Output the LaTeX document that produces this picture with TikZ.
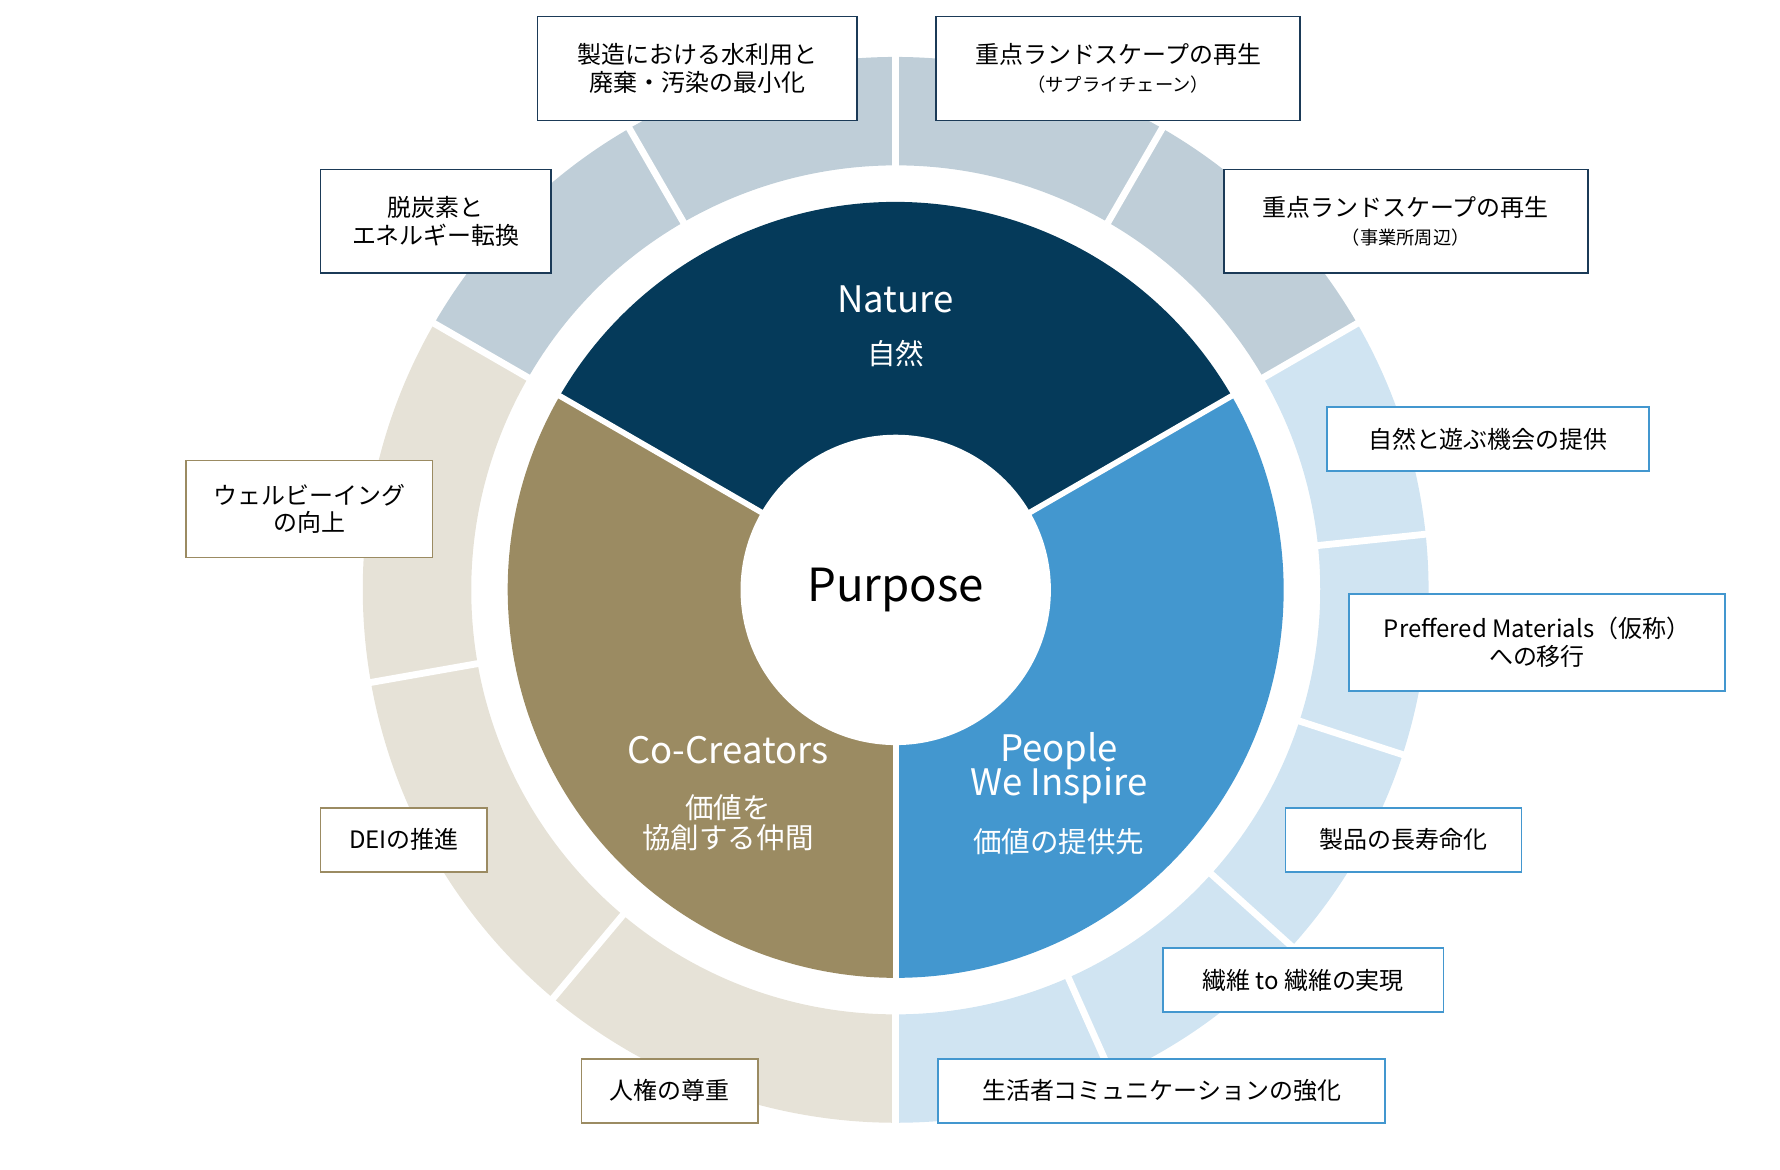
\documentclass[tikz,border=0pt]{standalone}
\usetikzlibrary{calc}
\usepackage{fontspec}
\setmainfont{Noto Sans CJK JP}
\begin{document}
\begin{tikzpicture}[x=1pt,y=1pt,
  lab/.style={draw=#1,line width=1.5pt,fill=white,align=center,inner sep=4pt,font=\fontsize{21}{28}\selectfont},
  inn/.style={text=white,font=\fontsize{32}{36}\selectfont},
  innj/.style={text=white,font=\fontsize{25}{30}\selectfont}]
\useasboundingbox (0,0) rectangle (1560,1025);
\coordinate (C) at (785,508);
\definecolor{nat}{HTML}{053A5A}\definecolor{peo}{HTML}{4397CF}\definecolor{coc}{HTML}{9B8B62}
\definecolor{rnat}{HTML}{BFCED8}\definecolor{rpeo}{HTML}{D0E4F2}\definecolor{rcoc}{HTML}{E6E2D7}
\definecolor{navy}{HTML}{1B3A57}
% ring
\fill[rnat] ($(C)+(30:467)$) arc(30:150:467) -- ($(C)+(150:372)$) arc(150:30:372) -- cycle;
\fill[rpeo] ($(C)+(-90:467)$) arc(-90:30:467) -- ($(C)+(30:372)$) arc(30:-90:372) -- cycle;
\fill[rcoc] ($(C)+(150:467)$) arc(150:270:467) -- ($(C)+(270:372)$) arc(270:150:372) -- cycle;
\foreach \a in {30,60,90,120,150,6,-18,-42,-66,-90,190,230}
  \draw[white,line width=6pt] ($(C)+(\a:360)$) -- ($(C)+(\a:480)$);
% inner
\fill[nat] (C) -- ($(C)+(30:340)$) arc(30:150:340) -- cycle;
\fill[peo] (C) -- ($(C)+(-90:340)$) arc(-90:30:340) -- cycle;
\fill[coc] (C) -- ($(C)+(150:340)$) arc(150:270:340) -- cycle;
\foreach \a in {30,150,270}
  \draw[white,line width=5pt] (C) -- ($(C)+(\a:345)$);
\fill[white] (C) circle (136);
\node[font=\fontsize{40}{44}\selectfont] (pur) at (C) {Purpose};
\node[inn] (n1) at (785,763) {Nature};
\node[innj] (n2) at (785,715) {自然};
\node[inn] (c1) at (638,368) {Co-Creators};
\node[innj,align=center] (c2) at (638,304) {価値を\\[-4pt]協創する仲間};
\node[inn,align=center] (p1) at (928,352) {People\\[-6pt]We Inspire};
\node[innj] (p2) at (928,287) {価値の提供先};
% labels
\node[lab=navy,minimum width=280pt,minimum height=91pt] (l1) at (611,965) {製造における水利用と\\[-4pt]廃棄・汚染の最小化};
\node[lab=navy,minimum width=319pt,minimum height=91pt] (l2) at (980,965) {重点ランドスケープの再生\\[-4pt]{\fontsize{16}{20}\selectfont（サプライチェーン）}};
\node[lab=navy,minimum width=202pt,minimum height=91pt] (l3) at (382,831) {脱炭素と\\[-4pt]エネルギー転換};
\node[lab=navy,minimum width=319pt,minimum height=91pt] (l4) at (1232,831) {重点ランドスケープの再生\\[-4pt]{\fontsize{16}{20}\selectfont（事業所周辺）}};
\node[lab=peo,minimum width=282pt,minimum height=56pt] (l5) at (1304,640) {自然と遊ぶ機会の提供};
\node[lab=peo,minimum width=329pt,minimum height=85pt] (l6) at (1347,462) {Preffered Materials（仮称）\\[-4pt]への移行};
\node[lab=peo,minimum width=207pt,minimum height=56pt] (l7) at (1230,289) {製品の長寿命化};
\node[lab=peo,minimum width=246pt,minimum height=56pt] (l8) at (1142,166) {繊維 to 繊維の実現};
\node[lab=peo,minimum width=392pt,minimum height=56pt] (l9) at (1018,69) {生活者コミュニケーションの強化};
\node[lab=coc,minimum width=216pt,minimum height=85pt] (l10) at (271,579) {ウェルビーイング\\[-4pt]の向上};
\node[lab=coc,minimum width=146pt,minimum height=56pt] (l11) at (354,289) {DEIの推進};
\node[lab=coc,minimum width=155pt,minimum height=56pt] (l12) at (587,69) {人権の尊重};
\end{tikzpicture}
\end{document}
